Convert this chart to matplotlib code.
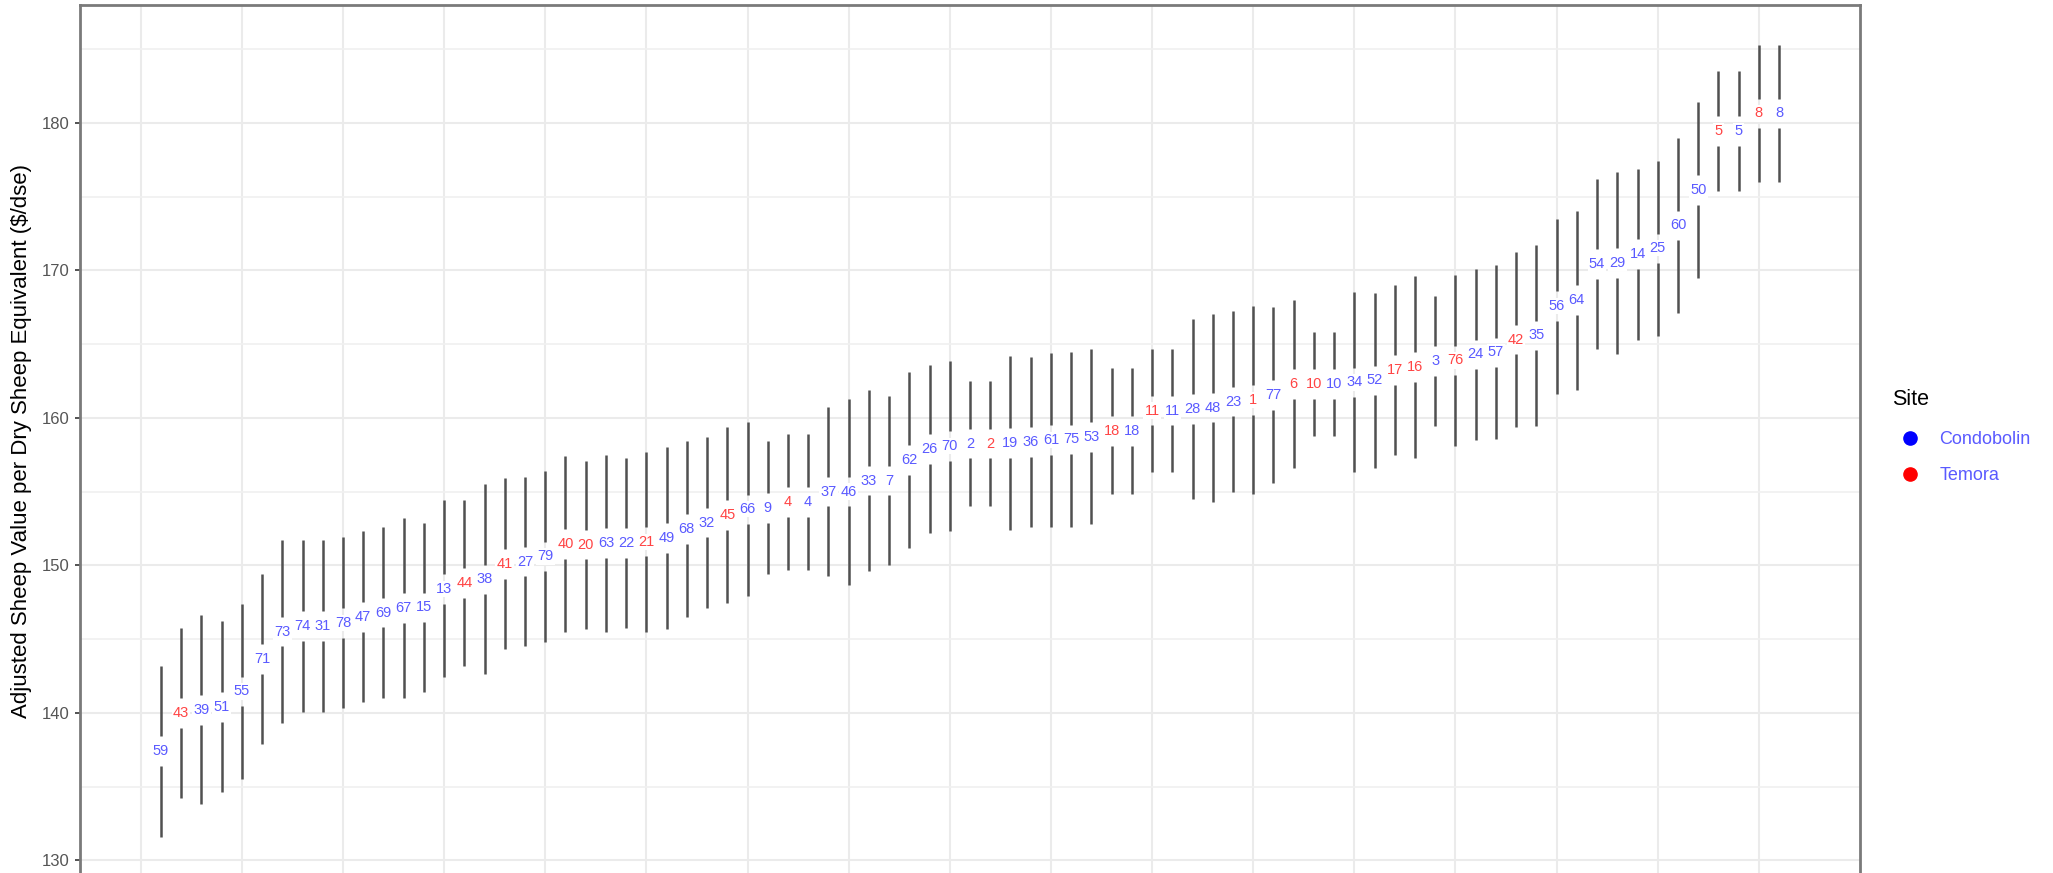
import matplotlib
matplotlib.use('Agg')
import matplotlib.pyplot as plt
from matplotlib.lines import Line2D
import numpy as np

plt.rcParams['font.family'] = ['Liberation Sans', 'DejaVu Sans']

# farm id shown at each point, ranked by value
labels = ['59','43','39','51','55','71','73','74','31','78',
          '47','69','67','15','13','44','38','41','27','79',
          '40','20','63','22','21','49','68','32','45','66',
          '9','4','4','37','46','33','7','62','26','70',
          '2','2','19','36','61','75','53','18','18','11',
          '11','28','48','23','1','77','6','10','10','34',
          '52','17','16','3','76','24','57','42','35','56',
          '64','54','29','14','25','60','50','5','5','8','8']
# C = Condobolin, T = Temora
site = ['C','T','C','C','C','C','C','C','C','C',
        'C','C','C','C','C','T','C','T','C','C',
        'T','T','C','C','T','C','C','C','T','C',
        'C','T','C','C','C','C','C','C','C','C',
        'C','T','C','C','C','C','C','T','C','T',
        'C','C','C','C','T','C','T','T','C','C',
        'C','T','T','C','T','C','C','T','C','C',
        'C','C','C','C','C','C','C','T','C','T','C']
centre = [137.4,140.0,140.2,140.4,141.45,143.65,145.5,145.9,145.9,146.1,
          146.5,146.8,147.1,147.15,148.4,148.8,149.05,150.1,150.25,150.6,
          151.45,151.4,151.5,151.5,151.6,151.85,152.45,152.9,153.4,153.8,
          153.9,154.3,154.3,155.0,155.0,155.75,155.75,157.15,157.9,158.1,
          158.25,158.25,158.3,158.35,158.5,158.55,158.7,159.1,159.1,160.5,
          160.5,160.6,160.7,161.1,161.2,161.55,162.3,162.3,162.3,162.4,
          162.55,163.25,163.45,163.85,163.9,164.3,164.45,165.3,165.6,167.6,
          168.0,170.45,170.5,171.1,171.5,173.05,175.45,179.45,179.45,180.65,180.65]
lower = [131.6,134.2,133.8,134.6,135.5,137.9,139.3,140.05,140.05,140.3,
         140.7,141.0,141.0,141.4,142.4,143.2,142.6,144.35,144.5,144.8,
         145.5,145.7,145.5,145.75,145.5,145.7,146.5,147.1,147.45,147.9,
         149.4,149.7,149.7,149.25,148.65,149.6,150.0,151.2,152.2,152.35,
         154.0,154.0,152.4,152.6,152.6,152.6,152.8,154.85,154.85,156.3,
         156.3,154.5,154.3,155.0,154.85,155.6,156.6,158.8,158.8,156.3,
         156.6,157.5,157.3,159.45,158.1,158.5,158.55,159.4,159.45,161.65,
         161.9,164.7,164.35,165.3,165.55,167.1,169.5,175.4,175.4,176.0,176.0]
upper = [143.2,145.75,146.6,146.2,147.4,149.4,151.7,151.7,151.7,151.9,
         152.3,152.6,153.2,152.9,154.4,154.4,155.5,155.9,156.0,156.4,
         157.4,157.1,157.5,157.3,157.7,158.0,158.45,158.7,159.35,159.7,
         158.45,158.9,158.9,160.75,161.3,161.9,161.5,163.1,163.6,163.85,
         162.5,162.5,164.2,164.1,164.4,164.5,164.65,163.4,163.4,164.65,
         164.65,166.7,167.05,167.25,167.6,167.5,168.0,165.8,165.8,168.55,
         168.5,169.0,169.6,168.25,169.7,170.1,170.35,171.25,171.75,173.5,
         174.05,176.2,176.65,176.9,177.45,179.0,181.4,183.5,183.5,185.3,185.3]

rank = np.arange(1, len(labels) + 1)
cen = np.array(centre)
gap = 1.0   # half-height of the break in each line around its label
txtcol = {'C': '#5a5aff', 'T': '#ff4444'}

fig = plt.figure(figsize=(20.53, 8.73), dpi=100)
ax = fig.add_axes([80/2053, -0.004, (1860-80)/2053, 0.9983])

ax.vlines(rank, lower, cen - gap, color='#505050', linewidth=1.8, zorder=2)
ax.vlines(rank, cen + gap, upper, color='#505050', linewidth=1.8, zorder=2)
for x, y, s, st in zip(rank, centre, labels, site):
    ax.text(x, y, s, color=txtcol[st], fontsize=10.5, ha='center', va='center',
            zorder=3, bbox=dict(facecolor='white', edgecolor='none', pad=0.8))

ax.set_xlim(-3, 85)
ax.set_ylim(128.9, 188.0)
ax.set_xticks(np.arange(0, 81, 5))
ax.set_yticks([130, 140, 150, 160, 170, 180])
ax.set_yticks([135, 145, 155, 165, 175, 185], minor=True)
ax.grid(which='major', color='#ebebeb', linewidth=1.5)
ax.grid(which='minor', axis='y', color='#f0f0f0', linewidth=1.2)
ax.set_axisbelow(True)
ax.tick_params(axis='y', which='major', labelsize=12, labelcolor='#555555',
               color='#444444', length=3.5, width=1.3, pad=4)
ax.tick_params(axis='y', which='minor', length=0)
ax.tick_params(axis='x', length=0, labelbottom=False)
for sp in ax.spines.values():
    sp.set_color('#7a7a7a')
    sp.set_linewidth(2.0)
ax.set_ylabel('Adjusted Sheep Value per Dry Sheep Equivalent ($/dse)', fontsize=16, labelpad=7)

fig.text(1892/2053, 1 - 400/873, 'Site', fontsize=15.5, ha='left', va='center')
handles = [Line2D([], [], marker='o', linestyle='none', color='blue', markersize=9.5),
           Line2D([], [], marker='o', linestyle='none', color='red', markersize=9.5)]
leg = fig.legend(handles, ['Condobolin', 'Temora'], loc='center left',
                 bbox_to_anchor=(1885/2053, 1 - 457.5/873), frameon=False, fontsize=13,
                 handlelength=1.0, handletextpad=1.1, labelspacing=1.05)
for t in leg.get_texts():
    t.set_color('#5a5aff')

fig.savefig('out.png', dpi=100)
